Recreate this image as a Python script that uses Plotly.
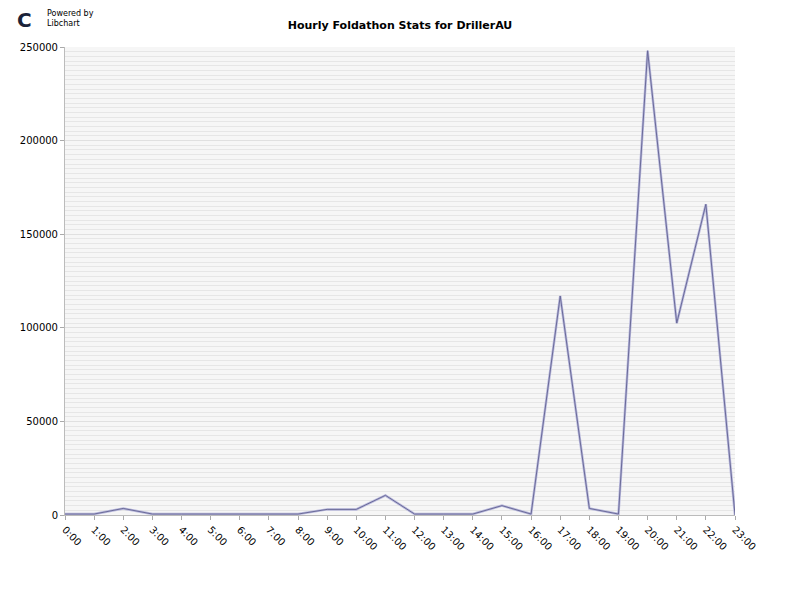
import plotly.graph_objects as go

hours = [f"{h}:00" for h in range(24)]
values = [500, 500, 3500, 500, 500, 500, 500, 500, 500, 3000, 3000, 10500,
          500, 500, 500, 5000, 500, 117000, 3500, 500, 248000, 102500, 166000, 0]

fig = go.Figure()
fig.add_trace(go.Scatter(x=hours, y=values, mode="lines",
                         line=dict(color="#b8b8dc", width=2.5), hoverinfo="skip"))
fig.add_trace(go.Scatter(x=hours, y=values, mode="lines",
                         line=dict(color="#6a6a98", width=1)))
fig.update_layout(
    width=800, height=600, showlegend=False,
    paper_bgcolor="white", plot_bgcolor="#f6f6f6",
    margin=dict(l=57, r=73, t=39, b=93, autoexpand=False),
    title=dict(text="<b>Hourly Foldathon Stats for DrillerAU</b>", x=0.5, xanchor="center",
               xref="paper", y=0.978,
               font=dict(family="DejaVu Sans", size=11, color="black")),
    font=dict(family="DejaVu Sans", size=10, color="black"),
)
fig.update_xaxes(range=[0, 23], tickangle=45, showgrid=False, ticks="outside",
                 ticklen=4, tickcolor="#aaa", showline=True, linecolor="#bbb",
                 zeroline=False, automargin=False)
fig.update_yaxes(range=[0, 250000], dtick=50000, tickformat="d", ticks="outside",
                 ticklen=4, tickcolor="#aaa", showline=True, linecolor="#bbb",
                 gridcolor="#e0e0e0", zeroline=False, automargin=False,
                 minor=dict(dtick=2500, showgrid=True, gridcolor="#e6e6e6"))
fig.add_annotation(text="Powered by<br>Libchart", xref="paper", yref="paper",
                   x=-0.03, y=1.085, xanchor="left", yanchor="top", showarrow=False,
                   align="left", font=dict(size=8, family="DejaVu Sans"))
fig.add_annotation(text="<b>C</b>", xref="paper", yref="paper", x=-0.075, y=1.088,
                   xanchor="left", yanchor="top", showarrow=False,
                   font=dict(size=20, color="#1a2238", family="DejaVu Sans"))
fig.write_html("out.html")
